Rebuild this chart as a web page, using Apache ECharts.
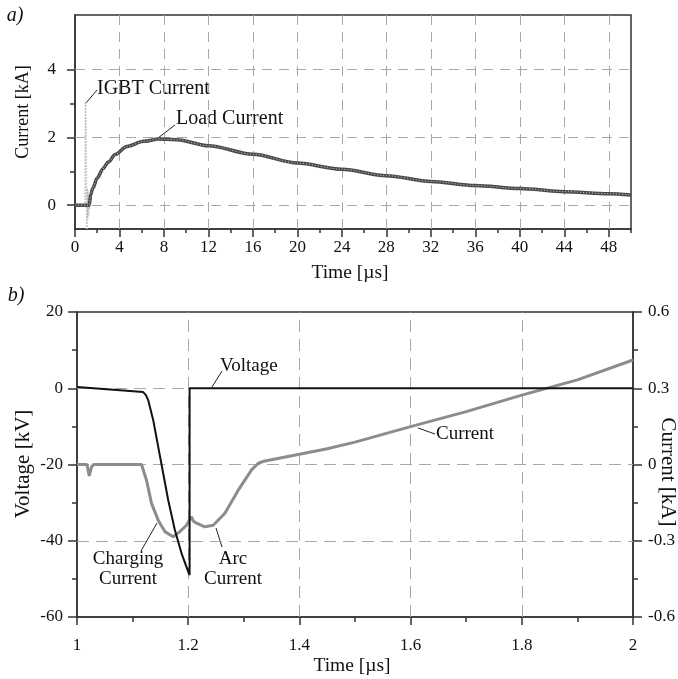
<!DOCTYPE html>
<html><head><meta charset="utf-8">
<script src="https://cdn.jsdelivr.net/npm/echarts@6/dist/echarts.min.js"></script>
<style>html,body{margin:0;padding:0;background:#fff}#c{width:678px;height:679px}</style>
</head><body><div id="c"></div>
<script>
const FONT = '"Liberation Serif", "Times New Roman", "DejaVu Serif", serif';

// ---------- panel a) data ----------
const igbtTime    = [0, 0.9, 0.95, 1.0, 1.03, 1.06, 1.1, 1.14, 1.18, 1.22, 1.26, 1.3, 1.35];
const igbtCurrent = [0, 0, 3.05, 3.0, 0.5, -0.7, 0.5, -0.4, 0.4, -0.3, 0.3, -0.1, 0.36];
const loadTime    = [0, 1.0, 1.25, 1.3, 1.4, 1.6, 2.0, 2.5, 3.0, 3.61, 4.66, 6.17, 7.52, 9.18, 12, 16, 20, 24, 28, 32, 36, 40, 44, 48, 50];
const loadCurrent = [0, 0, 0, 0.02, 0.3, 0.5, 0.8, 1.07, 1.27, 1.49, 1.73, 1.88, 1.95, 1.93, 1.75, 1.50, 1.24, 1.06, 0.87, 0.70, 0.58, 0.49, 0.40, 0.34, 0.30];
const topYTicksMajor = [0, 2, 4];
const topYTicksMinor = [1, 3];
const topGridX = [4, 8, 12, 16, 20, 24, 28, 32, 36, 40, 44, 48];
const topGridY = [0, 2, 4];

// ---------- panel b) data ----------
const voltTime  = [1.0, 1.119, 1.124, 1.128, 1.137, 1.146, 1.155, 1.164, 1.176, 1.188, 1.200, 1.2025, 1.2025, 2.0];
const voltValue = [0.3, -1.0, -1.8, -3.1, -8.3, -15.3, -22.3, -29.3, -37.2, -43.3, -48.1, -49.0, 0, 0];
const currTime  = [1.0, 1.018, 1.022, 1.026, 1.03, 1.116, 1.125, 1.134, 1.146, 1.158, 1.173, 1.185, 1.197, 1.203, 1.206, 1.209, 1.215, 1.230, 1.245, 1.266, 1.290, 1.314, 1.326, 1.338, 1.4, 1.45, 1.5, 1.6, 1.7, 1.8, 1.9, 2.0];
const currValue = [0, 0, -0.045, -0.01, 0, 0, -0.062, -0.153, -0.219, -0.264, -0.284, -0.264, -0.239, -0.215, -0.206, -0.222, -0.231, -0.245, -0.239, -0.192, -0.101, -0.021, 0.005, 0.014, 0.040, 0.062, 0.088, 0.149, 0.208, 0.273, 0.333, 0.411];
const botGridX = [1.2, 1.4, 1.6, 1.8];
const botGridY = [0, -20, -40];

const pairs = (a, b) => a.map((t, i) => [t, b[i]]);

const axisLine = { color: '#333', width: 1.5 };
const lbl = { color: '#111', fontFamily: FONT, fontSize: 17 };
const gridDash = { color: '#a8a8a8', width: 1, type: [10, 7] };

function markLines(xs, ys, dash) {
  return {
    silent: true, z: 1, symbol: ['none', 'none'], animation: false,
    label: { show: false }, emphasis: { disabled: true },
    lineStyle: dash,
    data: xs.map(v => ({ xAxis: v })).concat(ys.map(v => ({ yAxis: v })))
  };
}

const chart = echarts.init(document.getElementById('c'));
const option = {
  animation: false,
  backgroundColor: '#fff',
  grid: [
    { left: 75, right: 47, top: 15, bottom: 450, show: true, borderColor: '#333', borderWidth: 1.5, backgroundColor: 'transparent' },
    { left: 77, right: 45, top: 312, bottom: 62, show: true, borderColor: '#333', borderWidth: 1.5, backgroundColor: 'transparent' }
  ],
  xAxis: [
    { gridIndex: 0, type: 'value', min: 0, max: 50, interval: 4, position: 'bottom',
      axisLine: { show: true, onZero: false, lineStyle: axisLine },
      axisTick: { show: true, length: 8, lineStyle: axisLine },
      axisLabel: Object.assign({ margin: 10, showMaxLabel: false }, lbl),
      splitLine: { show: false } },
    { gridIndex: 0, type: 'value', min: 0, max: 50, interval: 2, position: 'bottom',
      axisLine: { show: false, onZero: false },
      axisTick: { show: true, length: 4, lineStyle: axisLine },
      axisLabel: { show: false }, splitLine: { show: false } },
    { gridIndex: 1, type: 'value', min: 1, max: 2, interval: 0.2, position: 'bottom',
      axisLine: { show: true, onZero: false, lineStyle: axisLine },
      axisTick: { show: true, length: 8, lineStyle: axisLine },
      axisLabel: Object.assign({ margin: 20 }, lbl),
      splitLine: { show: false } },
    { gridIndex: 1, type: 'value', min: 1, max: 2, interval: 0.1, position: 'bottom',
      axisLine: { show: false, onZero: false },
      axisTick: { show: true, length: 5, lineStyle: axisLine },
      axisLabel: { show: false }, splitLine: { show: false } }
  ],
  yAxis: [
    { gridIndex: 0, type: 'value', min: -0.7, max: 5.6, position: 'left',
      axisLine: { show: true, onZero: false, lineStyle: axisLine },
      axisTick: { show: true, length: 8, lineStyle: axisLine, customValues: topYTicksMajor },
      axisLabel: Object.assign({ margin: 19, customValues: topYTicksMajor }, lbl),
      splitLine: { show: false } },
    { gridIndex: 0, type: 'value', min: -0.7, max: 5.6, position: 'left',
      axisLine: { show: false, onZero: false },
      axisTick: { show: true, length: 5, lineStyle: axisLine, customValues: topYTicksMinor },
      axisLabel: { show: false }, splitLine: { show: false } },
    { gridIndex: 1, type: 'value', min: -60, max: 20, interval: 20, position: 'left',
      axisLine: { show: true, onZero: false, lineStyle: axisLine },
      axisTick: { show: true, length: 9, lineStyle: axisLine },
      axisLabel: Object.assign({ margin: 14 }, lbl),
      splitLine: { show: false } },
    { gridIndex: 1, type: 'value', min: -60, max: 20, interval: 10, position: 'left',
      axisLine: { show: false, onZero: false },
      axisTick: { show: true, length: 5, lineStyle: axisLine },
      axisLabel: { show: false }, splitLine: { show: false } },
    { gridIndex: 1, type: 'value', min: -0.6, max: 0.6, interval: 0.3, position: 'right',
      axisLine: { show: true, onZero: false, lineStyle: axisLine },
      axisTick: { show: true, length: 9, lineStyle: axisLine },
      axisLabel: Object.assign({ margin: 15 }, lbl),
      splitLine: { show: false } },
    { gridIndex: 1, type: 'value', min: -0.6, max: 0.6, interval: 0.15, position: 'right',
      axisLine: { show: false, onZero: false },
      axisTick: { show: true, length: 5, lineStyle: axisLine },
      axisLabel: { show: false }, splitLine: { show: false } }
  ],
  series: [
    { name: 'IGBT Current', type: 'line', xAxisIndex: 0, yAxisIndex: 0, z: 10,
      data: pairs(igbtTime, igbtCurrent), showSymbol: false, silent: true,
      lineStyle: { color: '#bdbdbd', width: 1.6, type: [1.5, 1.5] },
      markLine: markLines(topGridX, topGridY, gridDash) },
    { name: 'Load Current', type: 'line', xAxisIndex: 0, yAxisIndex: 0, z: 11,
      data: pairs(loadTime, loadCurrent), showSymbol: false, silent: true,
      smooth: 0.3, smoothMonotone: 'x',
      lineStyle: { color: '#4a4a4a', width: 3.5 } },
    { name: 'Load Current texture', type: 'line', xAxisIndex: 0, yAxisIndex: 0, z: 12,
      data: pairs(loadTime, loadCurrent), showSymbol: false, silent: true,
      smooth: 0.3, smoothMonotone: 'x',
      lineStyle: { color: '#d0d0d0', width: 1, type: [1, 2] } },
    { name: 'Current', type: 'line', xAxisIndex: 2, yAxisIndex: 4, z: 10,
      data: pairs(currTime, currValue), showSymbol: false, silent: true,
      lineStyle: { color: '#8c8c8c', width: 3 } },
    { name: 'Voltage', type: 'line', xAxisIndex: 2, yAxisIndex: 2, z: 11,
      data: pairs(voltTime, voltValue), showSymbol: false, silent: true,
      lineStyle: { color: '#111', width: 2 },
      markLine: markLines(botGridX, botGridY, { color: '#a8a8a8', width: 1, type: [12, 7] }) }
  ],
  graphic: [
    // panel tags
    { type: 'text', x: 15, y: 16, style: { text: 'a)', font: 'italic 20px ' + FONT, fill: '#111', align: 'center', verticalAlign: 'middle' } },
    { type: 'text', x: 16, y: 296, style: { text: 'b)', font: 'italic 20px ' + FONT, fill: '#111', align: 'center', verticalAlign: 'middle' } },
    // axis names
    { type: 'text', x: 23, y: 112, rotation: Math.PI / 2, style: { text: 'Current [kA]', font: '18px ' + FONT, fill: '#111', align: 'center', verticalAlign: 'middle' } },
    { type: 'text', x: 350, y: 273, style: { text: 'Time [µs]', font: '19.5px ' + FONT, fill: '#111', align: 'center', verticalAlign: 'middle' } },
    { type: 'text', x: 23, y: 464, rotation: Math.PI / 2, style: { text: 'Voltage [kV]', font: '21px ' + FONT, fill: '#111', align: 'center', verticalAlign: 'middle' } },
    { type: 'text', x: 668, y: 472, rotation: -Math.PI / 2, style: { text: 'Current [kA]', font: '21px ' + FONT, fill: '#111', align: 'center', verticalAlign: 'middle' } },
    { type: 'text', x: 352, y: 666, style: { text: 'Time [µs]', font: '19.5px ' + FONT, fill: '#111', align: 'center', verticalAlign: 'middle' } },
    // annotations panel a
    { type: 'line', shape: { x1: 86, y1: 103, x2: 97, y2: 90 }, style: { stroke: '#222', lineWidth: 1 } },
    { type: 'text', x: 97, y: 89, style: { text: 'IGBT Current', font: '20px ' + FONT, fill: '#111', align: 'left', verticalAlign: 'middle' } },
    { type: 'line', shape: { x1: 158, y1: 138, x2: 175, y2: 125 }, style: { stroke: '#222', lineWidth: 1 } },
    { type: 'text', x: 176, y: 119, style: { text: 'Load Current', font: '20px ' + FONT, fill: '#111', align: 'left', verticalAlign: 'middle' } },
    // annotations panel b
    { type: 'line', shape: { x1: 212, y1: 387, x2: 222, y2: 371 }, style: { stroke: '#222', lineWidth: 1 } },
    { type: 'text', x: 220, y: 366, style: { text: 'Voltage', font: '19px ' + FONT, fill: '#111', align: 'left', verticalAlign: 'middle' } },
    { type: 'line', shape: { x1: 418, y1: 428, x2: 435, y2: 434 }, style: { stroke: '#222', lineWidth: 1 } },
    { type: 'text', x: 436, y: 434, style: { text: 'Current', font: '19px ' + FONT, fill: '#111', align: 'left', verticalAlign: 'middle' } },
    { type: 'line', shape: { x1: 157, y1: 523, x2: 141, y2: 551 }, style: { stroke: '#222', lineWidth: 1 } },
    { type: 'text', x: 128, y: 559, style: { text: 'Charging', font: '19px ' + FONT, fill: '#111', align: 'center', verticalAlign: 'middle' } },
    { type: 'text', x: 128, y: 579, style: { text: 'Current', font: '19px ' + FONT, fill: '#111', align: 'center', verticalAlign: 'middle' } },
    { type: 'line', shape: { x1: 216, y1: 528, x2: 222, y2: 547 }, style: { stroke: '#222', lineWidth: 1 } },
    { type: 'text', x: 233, y: 559, style: { text: 'Arc', font: '19px ' + FONT, fill: '#111', align: 'center', verticalAlign: 'middle' } },
    { type: 'text', x: 233, y: 579, style: { text: 'Current', font: '19px ' + FONT, fill: '#111', align: 'center', verticalAlign: 'middle' } }
  ]
};
chart.setOption(option);
</script>
</body></html>
